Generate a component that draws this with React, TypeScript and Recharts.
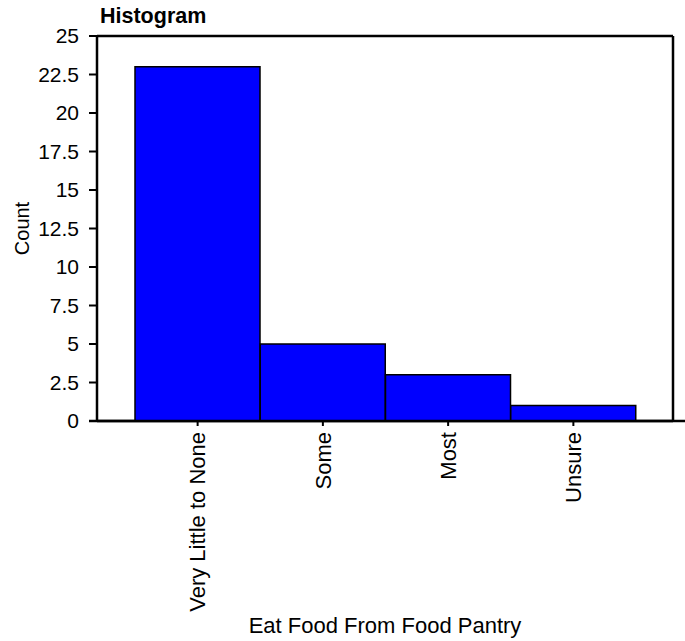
import * as Recharts from 'recharts';
import { BarChart, Bar, XAxis, YAxis } from 'recharts';

const categories = ['Very Little to None', 'Some', 'Most', 'Unsure'];
const counts = [23, 5, 3, 1];
const yTicks = [0, 2.5, 5, 7.5, 10, 12.5, 15, 17.5, 20, 22.5, 25];

const data = categories.map((category, i) => ({ category, count: counts[i] }));

const FONT = '"Liberation Sans", Arial, sans-serif';
const axisLine = { stroke: '#000', strokeWidth: 2.5 };
const tickLine = { stroke: '#000', strokeWidth: 2 };

const usePlotArea = (Recharts as any).usePlotArea;

// bottom axis line runs past the frame on both sides
const AxisExtension = () => {
  const plot = usePlotArea ? usePlotArea() : undefined;
  if (!plot) return null;
  const y = plot.y + plot.height;
  return (
    <line x1={plot.x - 8} x2={plot.x + plot.width + 12} y1={y} y2={y} stroke="#000" strokeWidth={2.5} />
  );
};

const XTick = ({ x, y, payload }: any) => (
  <g transform={`translate(${x},${y})`}>
    <text
      transform="rotate(-90)"
      x={-4}
      y={0}
      dy="0.35em"
      textAnchor="end"
      fontSize={22}
      fontFamily={FONT}
      fill="#000"
    >
      {payload.value}
    </text>
  </g>
);

const CountLabel = ({ viewBox }: any) => {
  const cx = viewBox.x + 22;
  const cy = viewBox.y + viewBox.height / 2;
  return (
    <text
      x={cx}
      y={cy}
      transform={`rotate(-90 ${cx} ${cy})`}
      textAnchor="middle"
      dominantBaseline="central"
      fontSize={20}
      fontFamily={FONT}
      fill="#000"
    >
      Count
    </text>
  );
};

export default function App() {
  return (
    <div
      style={{
        position: 'absolute',
        left: 0,
        top: 0,
        width: 685,
        height: 641,
        background: '#fff',
        fontFamily: FONT,
      }}
    >
      <div
        style={{
          position: 'absolute',
          left: 100,
          top: 4,
          fontSize: 21.5,
          fontWeight: 'bold',
          lineHeight: '24px',
          color: '#000',
        }}
      >
        Histogram
      </div>
      <BarChart
        width={685}
        height={641}
        data={data}
        margin={{ top: 35, right: 0, bottom: 0, left: 0 }}
        barCategoryGap={0}
      >
        <XAxis
          dataKey="category"
          height={220}
          interval={0}
          padding={{ left: 38, right: 37 }}
          tickSize={5}
          tickMargin={2}
          axisLine={axisLine}
          tickLine={tickLine}
          tick={<XTick />}
          label={{
            value: 'Eat Food From Food Pantry',
            position: 'insideBottom',
            offset: 8,
            fontSize: 22,
            fontFamily: FONT,
            fill: '#000',
          }}
        />
        <XAxis
          xAxisId="top"
          orientation="top"
          dataKey="category"
          height={1}
          interval={0}
          padding={{ left: 38, right: 37 }}
          tickSize={-5}
          tick={false}
          axisLine={axisLine}
          tickLine={tickLine}
        />
        <YAxis
          width={97}
          domain={[0, 25]}
          ticks={yTicks}
          interval={0}
          tickSize={8}
          tickMargin={10}
          axisLine={axisLine}
          tickLine={tickLine}
          tick={{ fontSize: 21, fontFamily: FONT, fill: '#000' }}
          label={{ content: CountLabel }}
        />
        <YAxis
          yAxisId="right"
          orientation="right"
          width={12}
          domain={[0, 25]}
          ticks={yTicks}
          interval={0}
          tickSize={-7}
          tick={false}
          axisLine={axisLine}
          tickLine={tickLine}
        />
        <Bar
          dataKey="count"
          fill="#0000ff"
          stroke="#000"
          strokeWidth={1.5}
          isAnimationActive={false}
        />
        <AxisExtension />
      </BarChart>
    </div>
  );
}
